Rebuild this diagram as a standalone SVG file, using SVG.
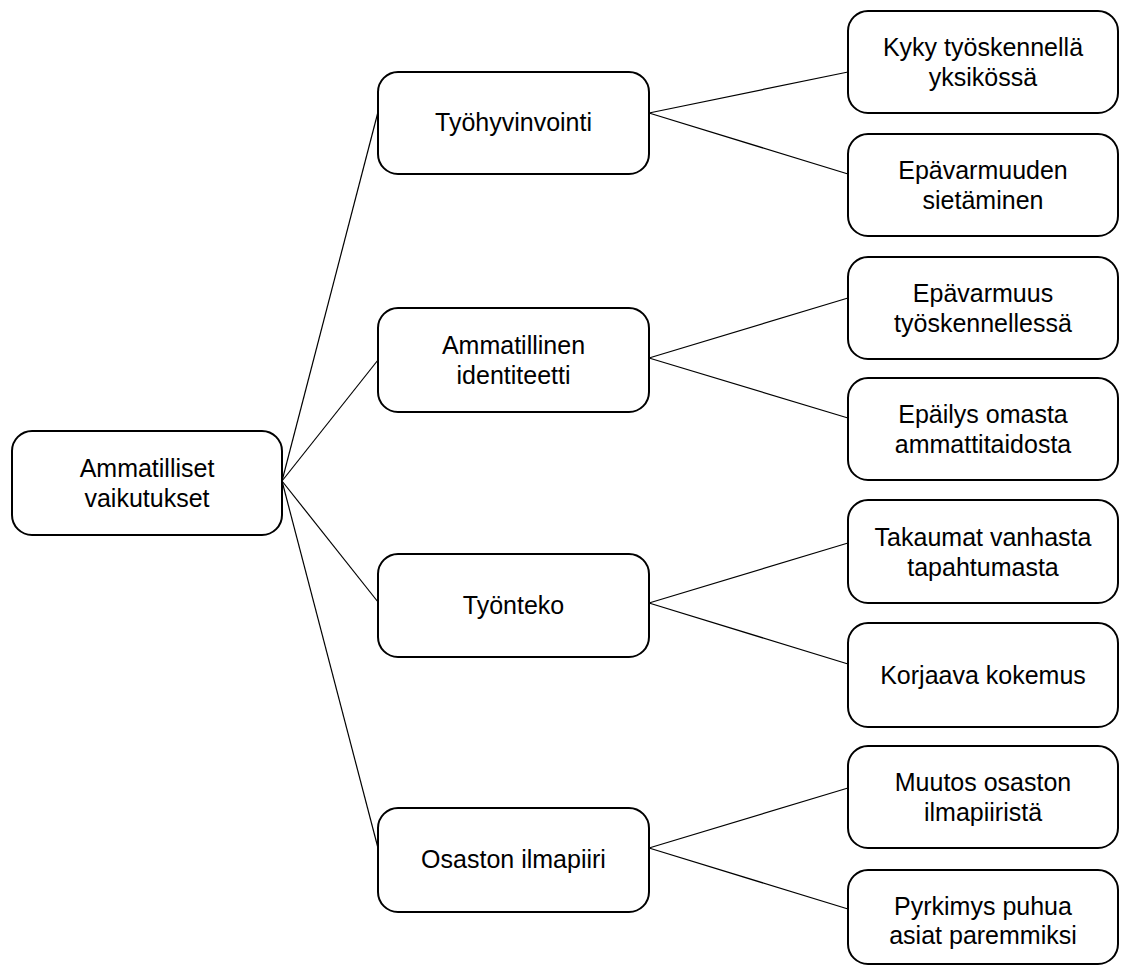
<svg xmlns="http://www.w3.org/2000/svg" width="1122" height="966" viewBox="0 0 1122 966">
<style>
.box{fill:#fff;stroke:#000;stroke-width:2}
.lbl{font-family:"Liberation Sans",Arial,sans-serif;font-size:25px;fill:#000;text-anchor:middle}
.conn line{stroke:#000;stroke-width:1.2}
</style>
<rect width="1122" height="966" fill="#fff"/>
<g class="conn" id="connectors">
<line x1="282" y1="481" x2="378" y2="112"/>
<line x1="282" y1="481" x2="378" y2="360"/>
<line x1="282" y1="481" x2="378" y2="602"/>
<line x1="282" y1="481" x2="378" y2="848"/>
<line x1="649" y1="113" x2="848" y2="72"/>
<line x1="649" y1="113" x2="848" y2="174"/>
<line x1="649" y1="358" x2="848" y2="298"/>
<line x1="649" y1="358" x2="848" y2="418"/>
<line x1="649" y1="603" x2="848" y2="543"/>
<line x1="649" y1="603" x2="848" y2="664"/>
<line x1="649" y1="848" x2="848" y2="788"/>
<line x1="649" y1="848" x2="848" y2="909"/>
</g>
<g id="root"><rect class="box" x="12" y="431" width="270" height="104" rx="20"/><text class="lbl" x="147" y="477">Ammatilliset</text><text class="lbl" x="147" y="507">vaikutukset</text></g>
<g id="tyohyvinvointi"><rect class="box" x="378" y="72" width="271" height="102" rx="20"/><text class="lbl" x="513.5" y="131">Työhyvinvointi</text></g>
<g id="identiteetti"><rect class="box" x="378" y="308" width="271" height="104" rx="20"/><text class="lbl" x="513.5" y="354">Ammatillinen</text><text class="lbl" x="513.5" y="384">identiteetti</text></g>
<g id="tyonteko"><rect class="box" x="378" y="554" width="271" height="103" rx="20"/><text class="lbl" x="513.5" y="614">Työnteko</text></g>
<g id="ilmapiiri"><rect class="box" x="378" y="808" width="271" height="104" rx="20"/><text class="lbl" x="513.5" y="868">Osaston ilmapiiri</text></g>
<g id="kyky"><rect class="box" x="848" y="11" width="270" height="102" rx="20"/><text class="lbl" x="983" y="56">Kyky työskennellä</text><text class="lbl" x="983" y="86">yksikössä</text></g>
<g id="sietaminen"><rect class="box" x="848" y="134" width="270" height="102" rx="20"/><text class="lbl" x="983" y="179">Epävarmuuden</text><text class="lbl" x="983" y="209">sietäminen</text></g>
<g id="epavarmuus"><rect class="box" x="848" y="257" width="270" height="102" rx="20"/><text class="lbl" x="983" y="302">Epävarmuus</text><text class="lbl" x="983" y="332">työskennellessä</text></g>
<g id="epailys"><rect class="box" x="848" y="378" width="270" height="102" rx="20"/><text class="lbl" x="983" y="423">Epäilys omasta</text><text class="lbl" x="983" y="453">ammattitaidosta</text></g>
<g id="takaumat"><rect class="box" x="848" y="500" width="270" height="103" rx="20"/><text class="lbl" x="983" y="546">Takaumat vanhasta</text><text class="lbl" x="983" y="576">tapahtumasta</text></g>
<g id="korjaava"><rect class="box" x="848" y="623" width="270" height="104" rx="20"/><text class="lbl" x="983" y="684">Korjaava kokemus</text></g>
<g id="muutos"><rect class="box" x="848" y="746" width="270" height="102" rx="20"/><text class="lbl" x="983" y="791">Muutos osaston</text><text class="lbl" x="983" y="821">ilmapiiristä</text></g>
<g id="pyrkimys"><rect class="box" x="848" y="870" width="270" height="94" rx="20"/><text class="lbl" x="983" y="915">Pyrkimys puhua</text><text class="lbl" x="983" y="944">asiat paremmiksi</text></g>
</svg>
